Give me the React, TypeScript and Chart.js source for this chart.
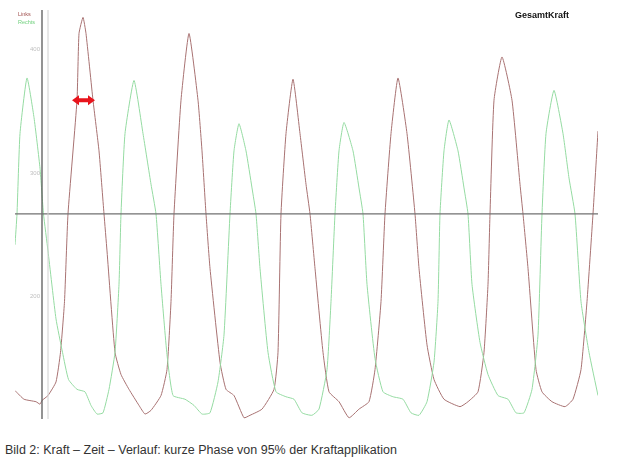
import React, { useEffect, useRef } from "react";
import { Chart, registerables } from "chart.js";

Chart.register(...registerables);

// Zeit (Abtastpunkte) und Kraft für "Links"
const timeLinks = [15, 24, 36, 40, 42, 48, 56, 60.5, 64.5, 68, 77, 79, 83, 86, 93, 99, 104, 107, 115, 121, 129, 139, 145, 151, 161, 167, 171, 174, 181, 189, 198, 202, 206, 210, 220, 226, 234, 244, 250, 262, 274, 278, 281, 286, 293, 300, 306, 310, 315, 323, 329, 339, 349, 359, 369, 375, 381, 385, 391, 398, 407, 415, 419, 427, 434, 444, 460, 468, 478, 484, 488, 490, 494, 502, 512, 520, 523, 528, 536, 542, 552, 565, 573, 581, 587, 593, 598];
const kraftLinks = [124, 117, 115, 113, 116, 120, 131, 155, 196, 267, 359, 413, 426, 413, 359, 318, 267, 237, 155, 137, 125, 112, 105, 108, 120, 141, 196, 267, 359, 413, 359, 318, 267, 223, 147, 125, 120, 102, 104, 109, 125, 155, 267, 332, 376, 332, 291, 267, 223, 155, 123, 115, 102, 109, 115, 141, 196, 267, 332, 377, 332, 267, 223, 161, 133, 117, 111, 115, 123, 155, 210, 267, 359, 394, 359, 291, 267, 223, 141, 123, 115, 111, 117, 141, 196, 267, 334];

// Zeit und Kraft für "Rechts"
const timeRechts = [15, 17, 20, 27, 34, 40, 43.5, 48, 56, 62.5, 68.5, 77, 85, 91, 97, 103, 109, 115, 119, 121, 125, 134, 143, 151, 156, 161, 167, 173, 185, 194, 202, 210, 218, 224, 230, 234, 239, 246, 252, 256, 260, 268, 276, 286, 294, 302, 312, 319, 327, 331, 335, 339, 344, 353, 359, 363, 367, 375, 383, 393, 403, 411, 419, 427, 434, 438, 440, 444, 449, 458, 464, 468, 472, 480, 488, 498, 508, 516, 524, 532, 538, 542, 546, 554, 563, 569, 575, 581, 589, 598];
const kraftRechts = [242, 267, 332, 377, 345, 304, 267, 237, 182, 155, 133, 125, 123, 112, 105, 106, 125, 155, 210, 267, 332, 375, 332, 291, 267, 210, 153, 120, 117, 112, 105, 106, 131, 169, 267, 318, 340, 318, 288, 267, 223, 155, 123, 119, 117, 106, 104, 109, 141, 196, 267, 318, 341, 318, 288, 267, 210, 150, 123, 119, 117, 106, 104, 115, 147, 196, 267, 318, 343, 318, 288, 267, 210, 163, 137, 120, 117, 106, 106, 125, 169, 267, 332, 367, 332, 296, 267, 196, 155, 120];

const yTickValues = [400, 300, 200];
const yTickLabels = ["400", "300", "200"];
const baseLevel = 267; // horizontale Achse
const axisTime = 42; // vertikale Achse
const markerTime = 48; // helle Hilfslinie
const arrowStart = 72;
const arrowEnd = 95;
const arrowLevel = 359;
const tMin = 15;
const tMax = 598;
const kMin = 101;
const kMax = 432;

const overlay = {
  id: "overlay",
  afterDatasetsDraw(chart: any) {
    const ctx = chart.ctx;
    const xs = chart.scales.x;
    const ys = chart.scales.y;
    ctx.save();
    // tick labels
    ctx.font = "6px 'Liberation Sans', Arial, sans-serif";
    ctx.fillStyle = "#c0c0c0";
    ctx.textAlign = "right";
    ctx.textBaseline = "middle";
    const ax = xs.getPixelForValue(axisTime);
    yTickValues.forEach((v, i) => {
      ctx.fillText(yTickLabels[i], ax - 2, ys.getPixelForValue(v));
    });
    // arrow
    const x1 = xs.getPixelForValue(arrowStart);
    const x2 = xs.getPixelForValue(arrowEnd);
    const yy = ys.getPixelForValue(arrowLevel);
    const head = 7;
    const hh = 5;
    const sh = 2;
    ctx.fillStyle = "#e8141c";
    ctx.beginPath();
    ctx.moveTo(x1, yy);
    ctx.lineTo(x1 + head, yy - hh);
    ctx.lineTo(x1 + head, yy - sh);
    ctx.lineTo(x2 - head, yy - sh);
    ctx.lineTo(x2 - head, yy - hh);
    ctx.lineTo(x2, yy);
    ctx.lineTo(x2 - head, yy + hh);
    ctx.lineTo(x2 - head, yy + sh);
    ctx.lineTo(x1 + head, yy + sh);
    ctx.lineTo(x1 + head, yy + hh);
    ctx.closePath();
    ctx.fill();
    // title
    ctx.textAlign = "center";
    ctx.textBaseline = "middle";
    ctx.fillStyle = "#111";
    ctx.font = "bold 9px 'Liberation Sans', Arial, sans-serif";
    ctx.fillText("GesamtKraft", 542, 16);
    // legend
    ctx.textAlign = "left";
    ctx.font = "5.5px 'Liberation Sans', Arial, sans-serif";
    ctx.fillStyle = "#a0504e";
    ctx.fillText("Links", 18, 14);
    ctx.fillStyle = "#6fd07c";
    ctx.fillText("Rechts", 18, 22);
    ctx.restore();
  },
};

export default function App() {
  const ref = useRef<HTMLCanvasElement>(null);
  useEffect(() => {
    if (!ref.current) return;
    const links = timeLinks.map((t, i) => ({ x: t, y: kraftLinks[i] }));
    const rechts = timeRechts.map((t, i) => ({ x: t, y: kraftRechts[i] }));
    const chart = new Chart(ref.current, {
      type: "line",
      data: {
        datasets: [
          {
            label: "Marker",
            data: [{ x: markerTime, y: kMin }, { x: markerTime, y: kMax }],
            borderColor: "#d0d0d0",
            borderWidth: 1,
            pointRadius: 0,
          },
          {
            label: "Achse",
            data: [{ x: tMin, y: baseLevel }, { x: tMax, y: baseLevel }],
            borderColor: "#707070",
            borderWidth: 1.3,
            pointRadius: 0,
          },
          {
            label: "AchseY",
            data: [{ x: axisTime, y: kMin - 5 }, { x: axisTime, y: kMax }],
            borderColor: "#5a5a5a",
            borderWidth: 1.3,
            pointRadius: 0,
          },
          {
            label: "Rechts",
            data: rechts,
            borderColor: "#95dba2",
            borderWidth: 1,
            pointRadius: 0,
            tension: 0.15,
          },
          {
            label: "Links",
            data: links,
            borderColor: "#a87272",
            borderWidth: 1,
            pointRadius: 0,
            tension: 0.15,
          },
        ],
      },
      options: {
        animation: false,
        responsive: false,
        devicePixelRatio: 1,
        layout: { padding: { left: 15, right: 33, top: 10, bottom: 13 } },
        plugins: { legend: { display: false }, tooltip: { enabled: false }, title: { display: false } },
        scales: {
          x: { type: "linear", min: tMin, max: tMax, display: false },
          y: { type: "linear", min: kMin, max: kMax, display: false },
        },
      },
      plugins: [overlay],
    });
    return () => chart.destroy();
  }, []);
  return (
    <div style={{ position: "absolute", left: 0, top: 0, width: 631, height: 472, background: "#fff" }}>
      <canvas ref={ref} width={631} height={432} style={{ display: "block" }} />
      <div
        style={{
          position: "absolute",
          left: 5,
          top: 443,
          fontFamily: "'Liberation Sans', Arial, sans-serif",
          fontSize: 12.5,
          color: "#333",
          whiteSpace: "nowrap",
        }}
      >
        Bild 2: Kraft – Zeit – Verlauf: kurze Phase von 95% der Kraftapplikation
      </div>
    </div>
  );
}
